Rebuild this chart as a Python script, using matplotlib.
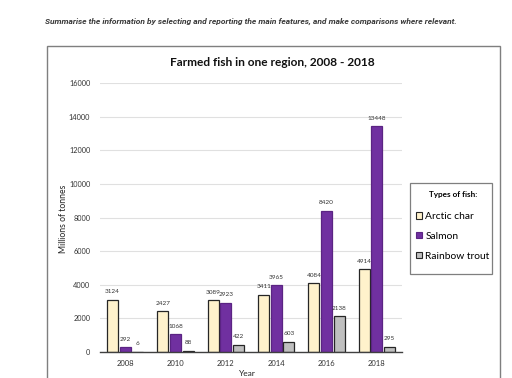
import matplotlib
matplotlib.use("Agg")
import matplotlib.pyplot as plt
import numpy as np
from matplotlib.patches import Rectangle, Patch

years = ["2008", "2010", "2012", "2014", "2016", "2018"]
arctic_char = [3124, 2427, 3089, 3411, 4084, 4914]
salmon = [292, 1068, 2923, 3965, 8420, 13448]
rainbow_trout = [6, 88, 422, 603, 2138, 295]
series_names = ["Arctic char", "Salmon", "Rainbow trout"]
yticks = [0, 2000, 4000, 6000, 8000, 10000, 12000, 14000, 16000]

colors = ["#FFF2CC", "#7030A0", "#BFBFBF"]
edges = ["#262626", "#5B2483", "#262626"]

FONT = "Lato"
W, H = 512, 378
fig = plt.figure(figsize=(W / 100, H / 100), dpi=100)
fig.patch.set_facecolor("white")

# instruction text
fig.text(45 / W, 1 - 21 / H,
         "Summarise the information by selecting and reporting the main features, and make comparisons where relevant.",
         family="Roboto", style="italic", weight="bold", fontsize=6.05, color="#3a3a3a",
         ha="left", va="center")

# chart frame
fig.patches.append(Rectangle((47 / W, -0.05), (499.5 - 47) / W, 1 - 46.5 / H + 0.05,
                             transform=fig.transFigure, fill=False,
                             edgecolor="#7f7f7f", linewidth=1.0, zorder=0))

fig.text(272 / W, 1 - 62 / H, "Farmed fish in one region, 2008 - 2018",
         family=FONT, weight="bold", fontsize=8.6, color="#111111",
         ha="center", va="center")

ax = fig.add_axes([100 / W, (H - 352) / H, 302 / W, (352 - 83.3) / H])
x = np.arange(len(years))
bw = 0.22
gap = 0.03
all_series = [arctic_char, salmon, rainbow_trout]
for i, (vals, c, ec, name) in enumerate(zip(all_series, colors, edges, series_names)):
    offs = (i - 1) * (bw + gap)
    ax.bar(x + offs, vals, width=bw, color=c, edgecolor=ec, linewidth=0.9,
           label=name, zorder=3)
    for xi, v in zip(x + offs, vals):
        ax.annotate(str(v), (xi, v), xytext=(0, 4), textcoords="offset points",
                    ha="center", va="bottom", fontsize=4.6, family=FONT,
                    color="#333333", zorder=4)

ax.set_xlim(-0.5, len(years) - 0.5)
ax.set_ylim(0, 16000)
ax.set_yticks(yticks)
ax.set_yticklabels([str(t) for t in yticks], family=FONT, fontsize=5.3, color="#333333")
ax.set_xticks(x)
ax.set_xticklabels(years, family=FONT, fontsize=5.5, color="#333333")
ax.tick_params(axis="both", length=0)
ax.tick_params(axis="y", pad=7)
ax.tick_params(axis="x", pad=6)
ax.grid(axis="y", color="#e0e0e0", linewidth=0.8, zorder=0)
ax.set_axisbelow(True)
for s in ["top", "right", "left"]:
    ax.spines[s].set_visible(False)
ax.spines["bottom"].set_color("#404040")
ax.spines["bottom"].set_linewidth(1.0)
ax.spines["bottom"].set_zorder(5)
ax.set_facecolor("white")

fig.text(63 / W, 1 - 219 / H, "Millions of tonnes", rotation=90, family=FONT,
         fontsize=6.2, color="#222222", ha="center", va="center")
fig.text(247 / W, 1 - 377.5 / H, "Year", family=FONT, fontsize=6.0,
         color="#222222", ha="center", va="bottom")

# legend frame
fig.patches.append(Rectangle((410 / W, 1 - 274 / H), (492 - 410) / W, (274 - 182.5) / H,
                             transform=fig.transFigure, facecolor="white",
                             edgecolor="#7f7f7f", linewidth=0.9, zorder=1))

handles = [Patch(facecolor=c, edgecolor=ec, linewidth=0.8) for c, ec in zip(colors, edges)]
leg = fig.legend(handles, series_names, loc="upper left",
                 bbox_to_anchor=(410 / W, 1 - 185 / H),
                 title="Types of fish:", frameon=False,
                 prop={"family": FONT, "size": 7.4},
                 title_fontproperties={"family": FONT, "size": 5.9, "weight": "bold"},
                 handlelength=0.6, handleheight=0.6, handletextpad=0.3,
                 labelspacing=1.05, borderpad=0.6, borderaxespad=0)
leg.set_zorder(2)
leg._legend_box.sep = 10

fig.savefig("out.png", dpi=100, facecolor="white")
